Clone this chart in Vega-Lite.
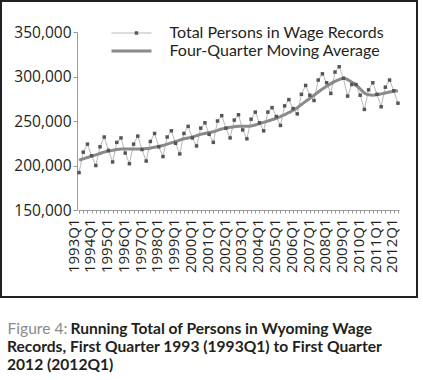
{
  "$schema": "https://vega.github.io/schema/vega-lite/v6.json",
  "width": 416,
  "height": 296,
  "autosize": {"type": "none"},
  "padding": {"left": 1, "top": 1, "right": 6, "bottom": 83},
  "background": "white",
  "config": {
    "view": {"stroke": "#222222", "strokeWidth": 2},
    "font": "Lato",
    "axis": {"grid": false, "domainColor": "#9a9a9a", "tickColor": "#9a9a9a", "labelColor": "#231f20", "labelFont": "Open Sans"}
  },
  "title": {
    "text": ["Records, First Quarter 1993 (1993Q1) to First Quarter", "2012 (2012Q1)"],
    "orient": "bottom",
    "anchor": "start",
    "frame": "group",
    "offset": 3,
    "dx": 6,
    "font": "Lato",
    "fontSize": 15.6,
    "fontWeight": "bold",
    "color": "#231f20",
    "lineHeight": 18
  },
  "data": {
    "values": [
      {"quarter": "1993Q1", "total": 192000, "ma": 206000},
      {"quarter": "1993Q2", "total": 215000, "ma": 207500},
      {"quarter": "1993Q3", "total": 224000, "ma": 209000},
      {"quarter": "1993Q4", "total": 211000, "ma": 210500},
      {"quarter": "1994Q1", "total": 200000, "ma": 212000},
      {"quarter": "1994Q2", "total": 221000, "ma": 213500},
      {"quarter": "1994Q3", "total": 232000, "ma": 215000},
      {"quarter": "1994Q4", "total": 217000, "ma": 216000},
      {"quarter": "1995Q1", "total": 204000, "ma": 217000},
      {"quarter": "1995Q2", "total": 226000, "ma": 218000},
      {"quarter": "1995Q3", "total": 231000, "ma": 218500},
      {"quarter": "1995Q4", "total": 214000, "ma": 218500},
      {"quarter": "1996Q1", "total": 202000, "ma": 218500},
      {"quarter": "1996Q2", "total": 224000, "ma": 218500},
      {"quarter": "1996Q3", "total": 233000, "ma": 218500},
      {"quarter": "1996Q4", "total": 218000, "ma": 218500},
      {"quarter": "1997Q1", "total": 205000, "ma": 219000},
      {"quarter": "1997Q2", "total": 227000, "ma": 219500},
      {"quarter": "1997Q3", "total": 236000, "ma": 220500},
      {"quarter": "1997Q4", "total": 221000, "ma": 221500},
      {"quarter": "1998Q1", "total": 210000, "ma": 222500},
      {"quarter": "1998Q2", "total": 232000, "ma": 224000},
      {"quarter": "1998Q3", "total": 239000, "ma": 225500},
      {"quarter": "1998Q4", "total": 225000, "ma": 227000},
      {"quarter": "1999Q1", "total": 213000, "ma": 228500},
      {"quarter": "1999Q2", "total": 236000, "ma": 230000},
      {"quarter": "1999Q3", "total": 244000, "ma": 231000},
      {"quarter": "1999Q4", "total": 231000, "ma": 232000},
      {"quarter": "2000Q1", "total": 222000, "ma": 233500},
      {"quarter": "2000Q2", "total": 242000, "ma": 235000},
      {"quarter": "2000Q3", "total": 248000, "ma": 236000},
      {"quarter": "2000Q4", "total": 235000, "ma": 237000},
      {"quarter": "2001Q1", "total": 226000, "ma": 238000},
      {"quarter": "2001Q2", "total": 250000, "ma": 239500},
      {"quarter": "2001Q3", "total": 256000, "ma": 241000},
      {"quarter": "2001Q4", "total": 242000, "ma": 242000},
      {"quarter": "2002Q1", "total": 231000, "ma": 243000},
      {"quarter": "2002Q2", "total": 251000, "ma": 243500},
      {"quarter": "2002Q3", "total": 257000, "ma": 244000},
      {"quarter": "2002Q4", "total": 240000, "ma": 244000},
      {"quarter": "2003Q1", "total": 230000, "ma": 244000},
      {"quarter": "2003Q2", "total": 252000, "ma": 244500},
      {"quarter": "2003Q3", "total": 260000, "ma": 245500},
      {"quarter": "2003Q4", "total": 248000, "ma": 247000},
      {"quarter": "2004Q1", "total": 239000, "ma": 248500},
      {"quarter": "2004Q2", "total": 260000, "ma": 250000},
      {"quarter": "2004Q3", "total": 265000, "ma": 251500},
      {"quarter": "2004Q4", "total": 255000, "ma": 253000},
      {"quarter": "2005Q1", "total": 245000, "ma": 255000},
      {"quarter": "2005Q2", "total": 267000, "ma": 257000},
      {"quarter": "2005Q3", "total": 274000, "ma": 259500},
      {"quarter": "2005Q4", "total": 264000, "ma": 262000},
      {"quarter": "2006Q1", "total": 258000, "ma": 265000},
      {"quarter": "2006Q2", "total": 280000, "ma": 268500},
      {"quarter": "2006Q3", "total": 290000, "ma": 272000},
      {"quarter": "2006Q4", "total": 279000, "ma": 275500},
      {"quarter": "2007Q1", "total": 273000, "ma": 279000},
      {"quarter": "2007Q2", "total": 296000, "ma": 282500},
      {"quarter": "2007Q3", "total": 303000, "ma": 286000},
      {"quarter": "2007Q4", "total": 293000, "ma": 289000},
      {"quarter": "2008Q1", "total": 281000, "ma": 292000},
      {"quarter": "2008Q2", "total": 305000, "ma": 294500},
      {"quarter": "2008Q3", "total": 311000, "ma": 296500},
      {"quarter": "2008Q4", "total": 298000, "ma": 298000},
      {"quarter": "2009Q1", "total": 278000, "ma": 296500},
      {"quarter": "2009Q2", "total": 291000, "ma": 293500},
      {"quarter": "2009Q3", "total": 291000, "ma": 290500},
      {"quarter": "2009Q4", "total": 279000, "ma": 286000},
      {"quarter": "2010Q1", "total": 263000, "ma": 281500},
      {"quarter": "2010Q2", "total": 285000, "ma": 279500},
      {"quarter": "2010Q3", "total": 293000, "ma": 279000},
      {"quarter": "2010Q4", "total": 280000, "ma": 279500},
      {"quarter": "2011Q1", "total": 266000, "ma": 280500},
      {"quarter": "2011Q2", "total": 288000, "ma": 281500},
      {"quarter": "2011Q3", "total": 296000, "ma": 282500},
      {"quarter": "2011Q4", "total": 284000, "ma": 283500},
      {"quarter": "2012Q1", "total": 270000, "ma": 284000}
    ]
  },
  "encoding": {
    "x": {
      "field": "quarter",
      "type": "ordinal",
      "scale": {"type": "point", "range": [77, 398], "padding": 0.25},
      "axis": {
        "orient": "bottom",
        "offset": -87,
        "title": "Running Total of Persons in Wyoming Wage",
        "titleFont": "Lato",
        "titleFontSize": 15.6,
        "titleFontWeight": "bold",
        "titleColor": "#231f20",
        "titleX": 69,
        "titleY": 123,
        "titleAlign": "left",
        "titleAnchor": "start",
        "titleBaseline": "alphabetic",
        "labelAngle": -90,
        "labelExpr": "indexof(datum.value, 'Q1') > 0 ? datum.value : ''",
        "labelOverlap": false,
        "labelFont": "Open Sans",
        "labelFontSize": 15,
        "labelOffset": -6,
        "tickSize": 3,
        "labelPadding": 5
      }
    }
  },
  "layer": [
    {
      "mark": {"type": "line", "strokeWidth": 1},
      "encoding": {
        "y": {
          "field": "total",
          "type": "quantitative",
          "scale": {"domain": [150000, 350000], "range": [209, 31], "zero": false, "nice": false},
          "axis": {
            "orient": "left",
            "offset": -76,
            "title": "Figure 4:",
            "titleFont": "Lato",
            "titleFontSize": 15.6,
            "titleFontWeight": "normal",
            "titleColor": "#8a8a8a",
            "titleAngle": 0,
            "titleX": -70,
            "titleY": 332,
            "titleAlign": "left",
            "titleAnchor": "start",
            "titleBaseline": "alphabetic",
            "values": [150000, 200000, 250000, 300000, 350000],
            "format": ",d",
            "tickSize": 4,
            "labelPadding": 2,
            "labelFont": "Open Sans",
            "labelFontSize": 15.5
          }
        },
        "color": {
          "datum": "Total Persons in Wage Records",
          "scale": {
            "domain": ["Total Persons in Wage Records", "Four-Quarter Moving Average"],
            "range": ["#b8b8b8", "#8a8a8a"]
          },
          "legend": {
            "orient": "none",
            "legendX": 122.5,
            "legendY": 24,
            "title": null,
            "symbolType": "M-3,0H3",
            "symbolSize": 178,
            "labelFontSize": 16,
            "labelLimit": 320,
            "labelColor": "#231f20",
            "labelOffset": 30,
            "rowPadding": 2,
            "encode": {
              "symbols": {
                "update": {
                  "strokeWidth": {"signal": "datum.value === 'Four-Quarter Moving Average' ? 3 : 1"}
                }
              }
            }
          }
        }
      }
    },
    {
      "mark": {"type": "line", "strokeWidth": 3, "interpolate": "monotone"},
      "encoding": {
        "y": {"field": "ma", "type": "quantitative"},
        "color": {"datum": "Four-Quarter Moving Average"}
      }
    },
    {
      "mark": {"type": "point", "filled": true, "color": "#555555", "size": 12, "opacity": 1},
      "encoding": {
        "y": {"field": "total", "type": "quantitative"},
        "shape": {
          "datum": "Total Persons in Wage Records",
          "scale": {"domain": ["Total Persons in Wage Records"], "range": ["square"]},
          "legend": {
            "orient": "none",
            "legendX": 122.5,
            "legendY": 24,
            "title": null,
            "labelExpr": "''",
            "symbolSize": 12,
            "symbolOffset": 4.94,
            "symbolFillColor": "#555555",
            "symbolStrokeWidth": 0,
            "labelFontSize": 16
          }
        }
      }
    }
  ]
}
